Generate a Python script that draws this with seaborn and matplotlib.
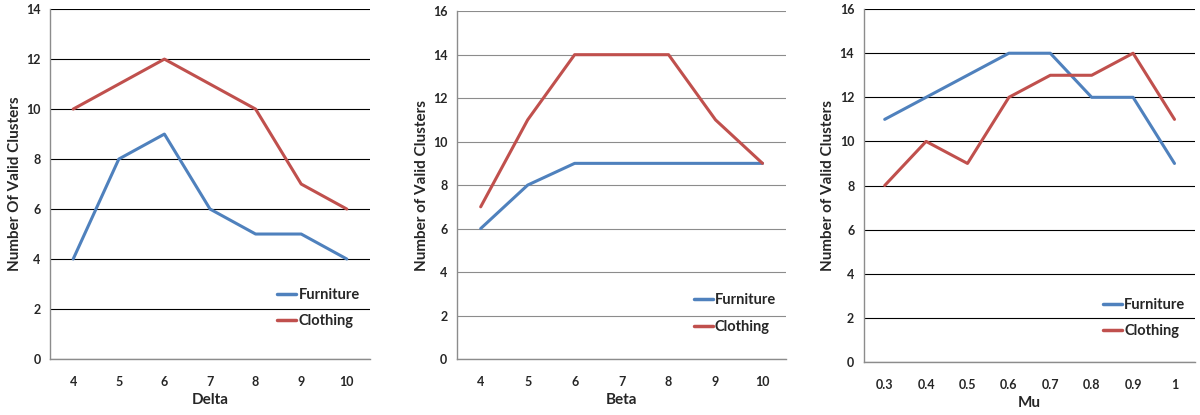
import matplotlib.pyplot as plt
import seaborn as sns
import pandas as pd
import numpy as np

sns.set_style('white')
plt.rcParams['font.family'] = ['Lato', 'DejaVu Sans']

# data
delta = ['4', '5', '6', '7', '8', '9', '10']
delta_furniture = [4, 8, 9, 6, 5, 5, 4]
delta_clothing = [10, 11, 12, 11, 10, 7, 6]

beta = ['4', '5', '6', '7', '8', '9', '10']
beta_furniture = [6, 8, 9, 9, 9, 9, 9]
beta_clothing = [7, 11, 14, 14, 14, 11, 9]

mu = ['0.3', '0.4', '0.5', '0.6', '0.7', '0.8', '0.9', '1']
mu_furniture = [11, 12, 13, 14, 14, 12, 12, 9]
mu_clothing = [8, 10, 9, 12, 13, 13, 14, 11]

colors = {'Furniture': '#4F81BD', 'Clothing': '#C0504D'}

panels = [
    (delta, delta_furniture, delta_clothing, 'Delta', 'Number Of Valid Clusters', 14,
     [0.042, 0.135, 0.266, 0.843], 'black', 0.05),
    (beta, beta_furniture, beta_clothing, 'Beta', 'Number of Valid Clusters', 16,
     [0.381, 0.135, 0.274, 0.838], '#8c8c8c', 0.035),
    (mu, mu_furniture, mu_clothing, 'Mu', 'Number of Valid Clusters', 16,
     [0.720, 0.128, 0.276, 0.850], 'black', 0.03),
]

fig = plt.figure(figsize=(12, 4.15), dpi=100)

for cats, furn, cloth, xlab, ylab, ymax, rect, gcol, leg_y in panels:
    ax = fig.add_axes(rect)
    df = pd.DataFrame({
        'x': cats + cats,
        'y': furn + cloth,
        'series': ['Furniture'] * len(cats) + ['Clothing'] * len(cats),
    })
    sns.lineplot(data=df, x='x', y='y', hue='series', palette=colors,
                 linewidth=2.2, sort=False, ax=ax, legend=False)
    n = len(cats)
    ax.set_xlim(-0.5, n - 0.5)
    ax.set_ylim(0, ymax)
    ax.set_yticks(np.arange(0, ymax + 1, 2))
    ax.set_xticks(range(n))
    ax.set_xticklabels(cats)
    ax.set_xticks(np.arange(-0.5, n, 1), minor=True)
    ax.tick_params(axis='x', which='major', length=0, pad=12, labelsize=9)
    ax.tick_params(axis='x', which='minor', length=5, color='#8c8c8c', direction='out')
    ax.tick_params(axis='y', length=4, color='#8c8c8c', labelsize=9, pad=3)
    for lab in ax.get_xticklabels() + ax.get_yticklabels():
        lab.set_fontweight('bold')
    ax.yaxis.grid(True, color=gcol, linewidth=0.8)
    ax.set_axisbelow(True)
    for s in ['top', 'right']:
        ax.spines[s].set_visible(False)
    for s in ['left', 'bottom']:
        ax.spines[s].set_color('#8c8c8c')
        ax.spines[s].set_linewidth(1)
    ax.set_xlabel(xlab, fontsize=11, fontweight='bold', labelpad=4)
    ax.set_ylabel(ylab, fontsize=11, fontweight='bold', labelpad=3)

    handles = [plt.Line2D([], [], color=colors[k], linewidth=2.5) for k in colors]
    ax.legend(handles, list(colors), loc='lower right', bbox_to_anchor=(1.01, leg_y),
              frameon=False, handlelength=1.3, handletextpad=0.15, labelspacing=0.85,
              prop={'weight': 'bold', 'size': 10.5})

fig.savefig('out.png', dpi=100)
